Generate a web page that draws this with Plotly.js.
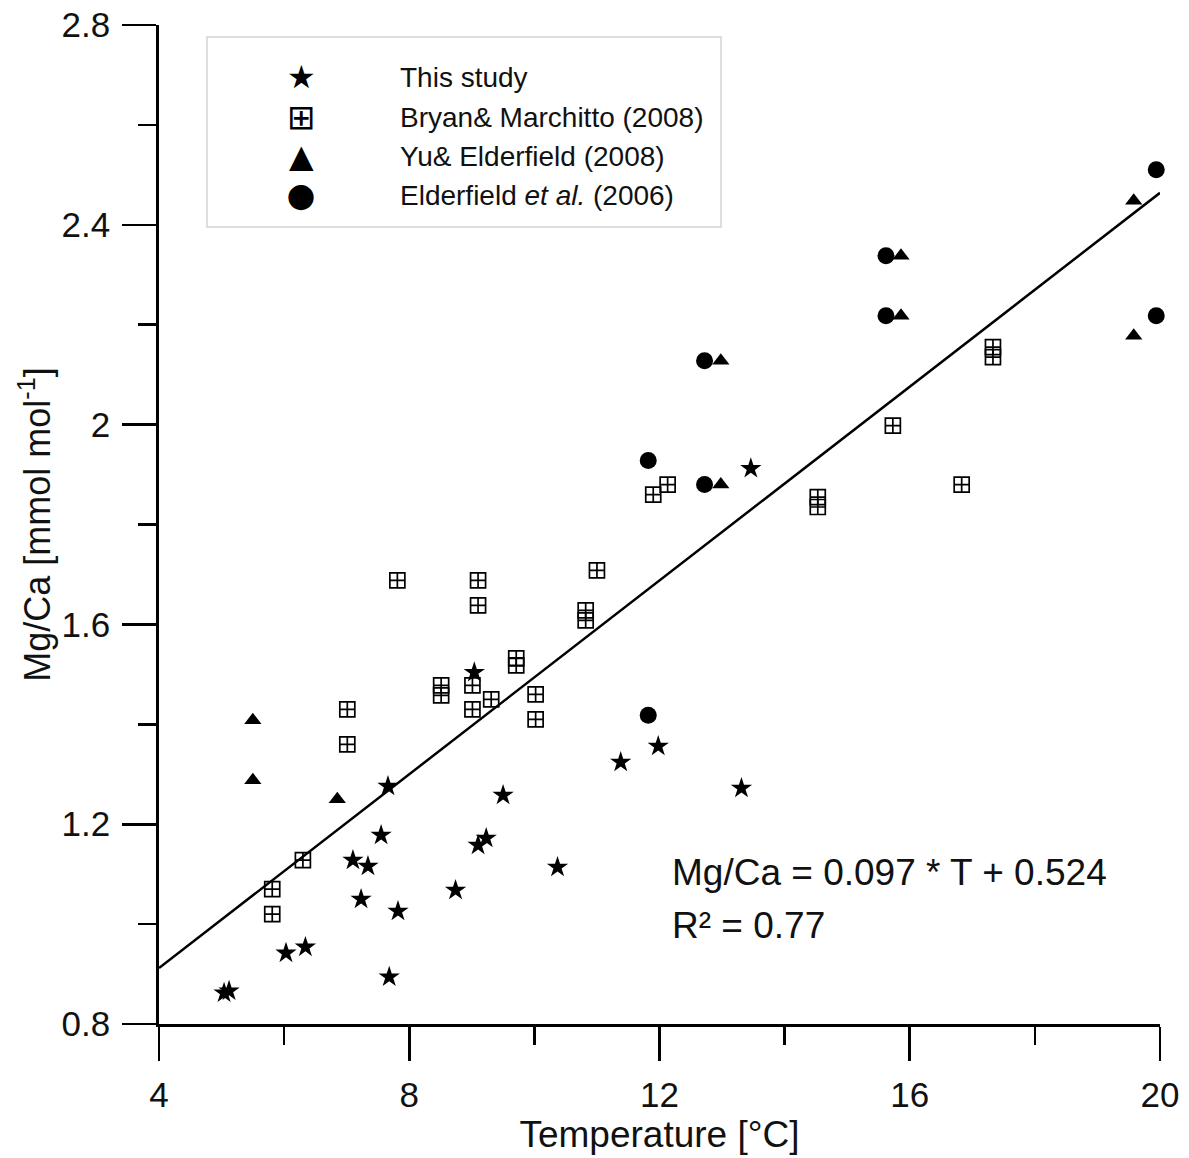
<!DOCTYPE html>
<html>
<head>
<meta charset="utf-8">
<script src="https://cdn.plot.ly/plotly-3.0.1.min.js"></script>
<style>
  html, body { margin: 0; padding: 0; background: #ffffff; }
  #chart { width: 1189px; height: 1158px; }
</style>
</head>
<body>
<div id="chart"></div>
<script>
// ---- Data ----
// This study
var starT  = [5.04, 5.12, 6.03, 6.34, 7.10, 7.23, 7.34, 7.55, 7.66, 7.68, 7.82, 8.74, 9.04, 9.10, 9.23, 9.50, 10.37, 11.38, 11.98, 13.31, 13.46];
var starMg = [0.862, 0.866, 0.942, 0.954, 1.128, 1.050, 1.116, 1.178, 1.276, 0.894, 1.026, 1.068, 1.504, 1.158, 1.172, 1.258, 1.114, 1.324, 1.356, 1.272, 1.912];
// Bryan & Marchitto (2008)
var bmT  = [5.81, 5.81, 6.30, 7.01, 7.01, 7.81, 8.51, 8.51, 9.01, 9.01, 9.10, 9.10, 9.31, 9.71, 9.71, 10.02, 10.02, 10.82, 10.82, 11.00, 11.90, 12.13, 14.53, 14.53, 15.73, 16.83, 17.33, 17.33];
var bmMg = [1.070, 1.020, 1.128, 1.430, 1.360, 1.688, 1.478, 1.458, 1.478, 1.430, 1.688, 1.638, 1.450, 1.532, 1.518, 1.460, 1.410, 1.628, 1.608, 1.708, 1.860, 1.880, 1.855, 1.835, 1.998, 1.880, 2.155, 2.135];
// Yu & Elderfield (2008)
var yeT  = [5.50, 5.50, 6.85, 12.98, 12.98, 15.86, 15.86, 19.58, 19.58];
var yeMg = [1.408, 1.288, 1.250, 1.880, 2.128, 2.218, 2.338, 2.178, 2.448];
// Elderfield et al. (2006)
var elT  = [11.82, 11.82, 12.72, 12.72, 15.62, 15.62, 19.94, 19.94];
var elMg = [1.418, 1.928, 1.880, 2.128, 2.218, 2.338, 2.218, 2.510];
// Regression line end points: Mg/Ca = 0.097 * T + 0.524
var fitT  = [4, 20];
var fitMg = [0.912, 2.464];

var seriesNames = ['This study', 'Bryan& Marchitto (2008)', 'Yu& Elderfield (2008)', 'Elderfield <i>et al.</i> (2006)'];
var legendGlyphs = ['\u2605', '\u229E', '\u25B2', '\u25CF'];
var xTicks = [4, 8, 12, 16, 20];
var yTicks = [0.8, 1.2, 1.6, 2.0, 2.4, 2.8];
var yTickText = ['0.8', '1.2', '1.6', '2', '2.4', '2.8'];

var FONT = 'Liberation Sans, Arial, Helvetica, sans-serif';

var traces = [
  { x: fitT, y: fitMg, mode: 'lines', type: 'scatter', name: 'fit',
    line: { color: '#000', width: 2.5 }, showlegend: false, hoverinfo: 'skip' },
  { x: bmT, y: bmMg, mode: 'markers', type: 'scatter', name: 'Bryan& Marchitto (2008)',
    marker: { symbol: 'square-cross-open', size: 15, color: '#000', line: { width: 1.7, color: '#111' } },
    showlegend: false, cliponaxis: false },
  { x: starT, y: starMg, mode: 'markers', type: 'scatter', name: 'This study',
    marker: { symbol: 'star', size: 16, color: '#000', line: { width: 0 } },
    showlegend: false, cliponaxis: false },
  { x: yeT, y: yeMg, mode: 'markers', type: 'scatter', name: 'Yu& Elderfield (2008)',
    marker: { symbol: 'triangle-up', size: 15, color: '#000', line: { width: 0 } },
    showlegend: false, cliponaxis: false },
  { x: elT, y: elMg, mode: 'markers', type: 'scatter', name: 'Elderfield et al. (2006)',
    marker: { symbol: 'circle', size: 17, color: '#000', line: { width: 0 } },
    showlegend: false, cliponaxis: false }
];

// plot area in pixels: x 159..1160, y 25..1024
var L = 159, R = 1160, T = 25, B = 1024;
function px(xp) { return (xp - L) / (R - L); }
function py(yp) { return (B - yp) / (B - T); }

var annotations = [];
var rowY = [77, 117, 156, 195];
var glyphRowY = [77, 117, 156, 197];
var glyphSize = [32, 34, 32, 28];
var glyphFont = ['DejaVu Sans', 'DejaVu Sans', 'DejaVu Sans', 'Noto Sans CJK JP, DejaVu Sans'];
for (var i = 0; i < seriesNames.length; i++) {
  annotations.push({ xref: 'paper', yref: 'paper', x: px(301), y: py(glyphRowY[i]), xanchor: 'center', yanchor: 'middle',
    text: legendGlyphs[i], showarrow: false, font: { family: glyphFont[i], size: glyphSize[i], color: '#000' } });
  annotations.push({ xref: 'paper', yref: 'paper', x: px(398), y: py(rowY[i]), xanchor: 'left', yanchor: 'middle',
    text: seriesNames[i], showarrow: false, font: { family: FONT, size: 28, color: '#111' } });
}
annotations.push({ xref: 'paper', yref: 'paper', x: px(670), y: py(872), xanchor: 'left', yanchor: 'middle',
  text: 'Mg/Ca = 0.097 * T + 0.524', showarrow: false, font: { family: FONT, size: 37, color: '#111' } });
annotations.push({ xref: 'paper', yref: 'paper', x: px(670), y: py(925), xanchor: 'left', yanchor: 'middle',
  text: 'R\u00B2 = 0.77', showarrow: false, font: { family: FONT, size: 37, color: '#111' } });

var layout = {
  width: 1189, height: 1158,
  margin: { l: L, r: 1189 - R, t: T, b: 1158 - B, pad: 0 },
  paper_bgcolor: '#fff', plot_bgcolor: '#fff',
  font: { family: FONT, color: '#111', size: 34 },
  showlegend: false,
  xaxis: {
    range: [4, 20], tickvals: xTicks, ticktext: xTicks.map(String),
    showline: true, linecolor: '#000', linewidth: 2.8,
    ticks: 'outside', ticklen: 34, tickwidth: 2.6, tickcolor: '#000',
    minor: { dtick: 2, tick0: 4, ticks: 'outside', ticklen: 18, tickwidth: 2.6, tickcolor: '#000', showgrid: false },
    showgrid: false, zeroline: false, ticklabelstandoff: 4,
    tickfont: { family: FONT, size: 35, color: '#111' },
    title: { text: 'Temperature [°C]', font: { family: FONT, size: 37, color: '#111' }, standoff: 9 }
  },
  yaxis: {
    range: [0.8, 2.8], tickvals: yTicks, ticktext: yTickText,
    showline: true, linecolor: '#000', linewidth: 2.8,
    ticks: 'outside', ticklen: 34, tickwidth: 2.6, tickcolor: '#000',
    minor: { dtick: 0.2, tick0: 0.8, ticks: 'outside', ticklen: 18, tickwidth: 2.6, tickcolor: '#000', showgrid: false },
    showgrid: false, zeroline: false, ticklabelstandoff: 5,
    tickfont: { family: FONT, size: 35, color: '#111' },
    title: { text: 'Mg/Ca [mmol mol<sup>-1</sup>]', font: { family: FONT, size: 36, color: '#111' }, standoff: 0 }
  },
  shapes: [
    { type: 'rect', xref: 'paper', yref: 'paper', x0: px(207), x1: px(721), y0: py(227), y1: py(37),
      line: { color: '#d4d4d4', width: 1.5 }, fillcolor: '#fff', layer: 'below' }
  ],
  annotations: annotations
};

Plotly.newPlot('chart', traces, layout, { displayModeBar: false, staticPlot: true });
</script>
</body>
</html>
